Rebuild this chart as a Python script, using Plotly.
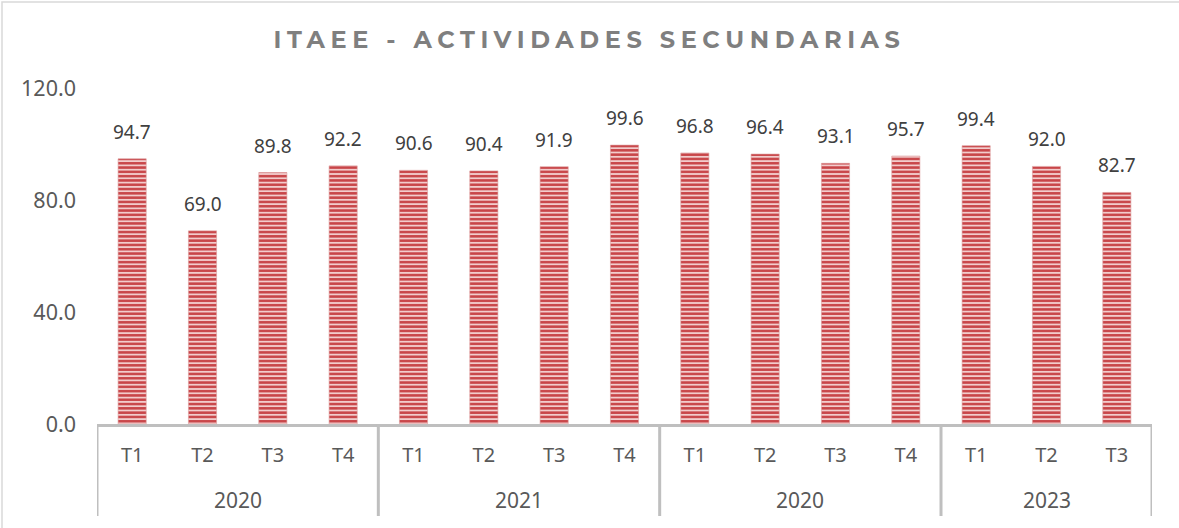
import plotly.graph_objects as go

years = ["2020", "2021", "2020", "2023"]
quarters = ["T1", "T2", "T3", "T4"] * 3 + ["T1", "T2", "T3"]
values = [94.7, 69.0, 89.8, 92.2, 90.6, 90.4, 91.9, 99.6,
          96.8, 96.4, 93.1, 95.7, 99.4, 92.0, 82.7]
y_ticks = [0, 40, 80, 120]

W, H = 1179, 528
L, R, T, B = 97, 27, 88, 104
PW, PH = W - L - R, H - T - B

idx = list(range(len(values)))
# group boundaries (4 quarters per year, last year has 3)
group_sizes = [4, 4, 4, 3]
starts = [sum(group_sizes[:i]) for i in range(len(group_sizes))]

fig = go.Figure()
fig.add_trace(go.Bar(
    x=idx,
    y=values,
    marker=dict(
        color="#f0c8c8",
        line=dict(color="#dc9c9c", width=0.6),
        pattern=dict(shape="-", fillmode="replace", fgcolor="#c84548",
                     bgcolor="#f2cccc", fgopacity=1, size=4.3, solidity=0.58),
    ),
))

# value labels above bars
for i, v in zip(idx, values):
    fig.add_annotation(x=i, y=v, text=f"{v:.1f}", showarrow=False,
                       yanchor="bottom", yshift=12,
                       font=dict(size=19, color="#404040"))

# year labels and group dividers
for s, n, yr in zip(starts, group_sizes, years):
    fig.add_annotation(x=s + (n - 1) / 2, y=-(500 - 424) / PH, xref="x", yref="paper",
                       text=yr, showarrow=False, yanchor="middle",
                       font=dict(size=21, color="#595959"))
for b in starts + [len(values)]:
    fig.add_shape(type="line", xref="x", yref="paper",
                  x0=b - 0.5, x1=b - 0.5, y0=0, y1=-(516 - 424) / PH,
                  line=dict(color="#bfbfbf", width=3))

title = ("<span style='letter-spacing:5.6px'>"
         "<b>ITAEE - ACTIVIDADES SECUNDARIAS</b></span>")

fig.update_layout(
    width=W, height=H,
    margin=dict(l=L, r=R, t=T, b=B, autoexpand=False),
    paper_bgcolor="white",
    plot_bgcolor="white",
    showlegend=False,
    bargap=0.6,
    font=dict(family="Noto Sans, Open Sans, sans-serif", color="#595959", size=18),
    title=dict(text=title, x=0.5, xanchor="center", y=1 - 40 / H, yanchor="middle",
               font=dict(family="Montserrat, DejaVu Sans, sans-serif",
                         size=24, color="#7f7f7f")),
    xaxis=dict(
        range=[-0.5, len(values) - 0.5],
        tickvals=idx, ticktext=quarters,
        showline=True, linecolor="#bfbfbf", linewidth=3,
        showgrid=False, zeroline=False, ticks="",
        ticklabelstandoff=11,
        tickfont=dict(size=20, color="#595959"),
    ),
    yaxis=dict(
        range=[0, 120], tickvals=y_ticks, tickformat=".1f",
        showgrid=False, zeroline=False, showline=False,
        ticks="", ticklabelstandoff=20,
        tickfont=dict(size=21.5, color="#595959"),
    ),
)

# outer chart frame
fig.add_shape(type="rect", xref="paper", yref="paper",
              x0=-(L - 2) / PW, x1=1 + (R + 5) / PW,
              y0=-(B + 5) / PH, y1=1 + (T - 2) / PH,
              line=dict(color="#d9d9d9", width=1.5))

fig.write_html("out.html", config={"displayModeBar": False},
               post_script="document.body.style.margin='0px';document.body.style.overflow='hidden';")
